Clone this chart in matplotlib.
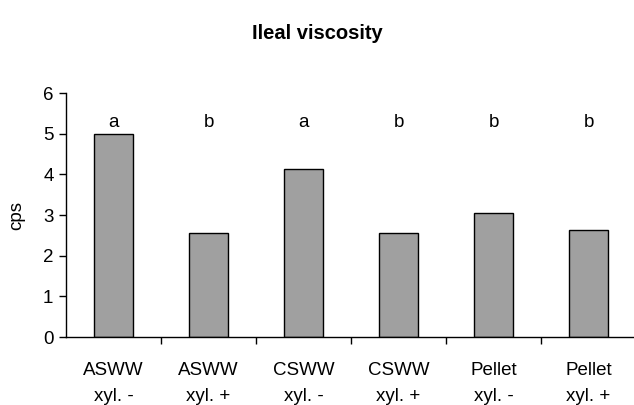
import numpy as np
import matplotlib
matplotlib.use('Agg')
import matplotlib.pyplot as plt

plt.rcParams['font.family'] = ['Liberation Sans', 'DejaVu Sans']

# viscosidad ileal por dieta
diets = ['ASWW\nxyl. -', 'ASWW\nxyl. +', 'CSWW\nxyl. -',
         'CSWW\nxyl. +', 'Pellet\nxyl. -', 'Pellet\nxyl. +']
cps = [5.0, 2.55, 4.12, 2.55, 3.05, 2.62]
letters = ['a', 'b', 'a', 'b', 'b', 'b']
letter_y = 5.27

fig = plt.figure(figsize=(6.34, 4.05), dpi=100)
ax = fig.add_axes([66/634, 68/405, 570/634, 244/405])

x = np.arange(len(diets))
ax.bar(x, cps, width=0.41, color='#a0a0a0', edgecolor='black', linewidth=1.0)

for i in range(len(diets)):
  ax.text(x[i], letter_y, letters[i], ha='center', va='center', fontsize=13.5)

ax.set_xlim(-0.5, len(diets) - 0.5)
ax.set_ylim(0, 6)
ax.set_yticks(range(0, 7))
ax.tick_params(axis='y', labelsize=13.5, length=5, width=1, direction='out', pad=4)

# etiquetas centradas, marcas entre categorías
ax.set_xticks(x)
ax.set_xticklabels(diets, fontsize=13.5, linespacing=1.7)
ax.set_xticks(np.arange(len(diets)) + 0.5, minor=True)
ax.tick_params(axis='x', which='major', length=0, pad=18)
ax.tick_params(axis='x', which='minor', length=5, width=1, direction='out')

ax.spines['top'].set_visible(False)
ax.spines['right'].set_visible(False)
ax.spines['left'].set_linewidth(1)
ax.spines['bottom'].set_linewidth(1)

ax.set_ylabel('cps', fontsize=13.5, labelpad=13)
fig.suptitle('Ileal viscosity', fontsize=14.5, fontweight='bold', y=0.94)

fig.savefig('out.png', dpi=100)
